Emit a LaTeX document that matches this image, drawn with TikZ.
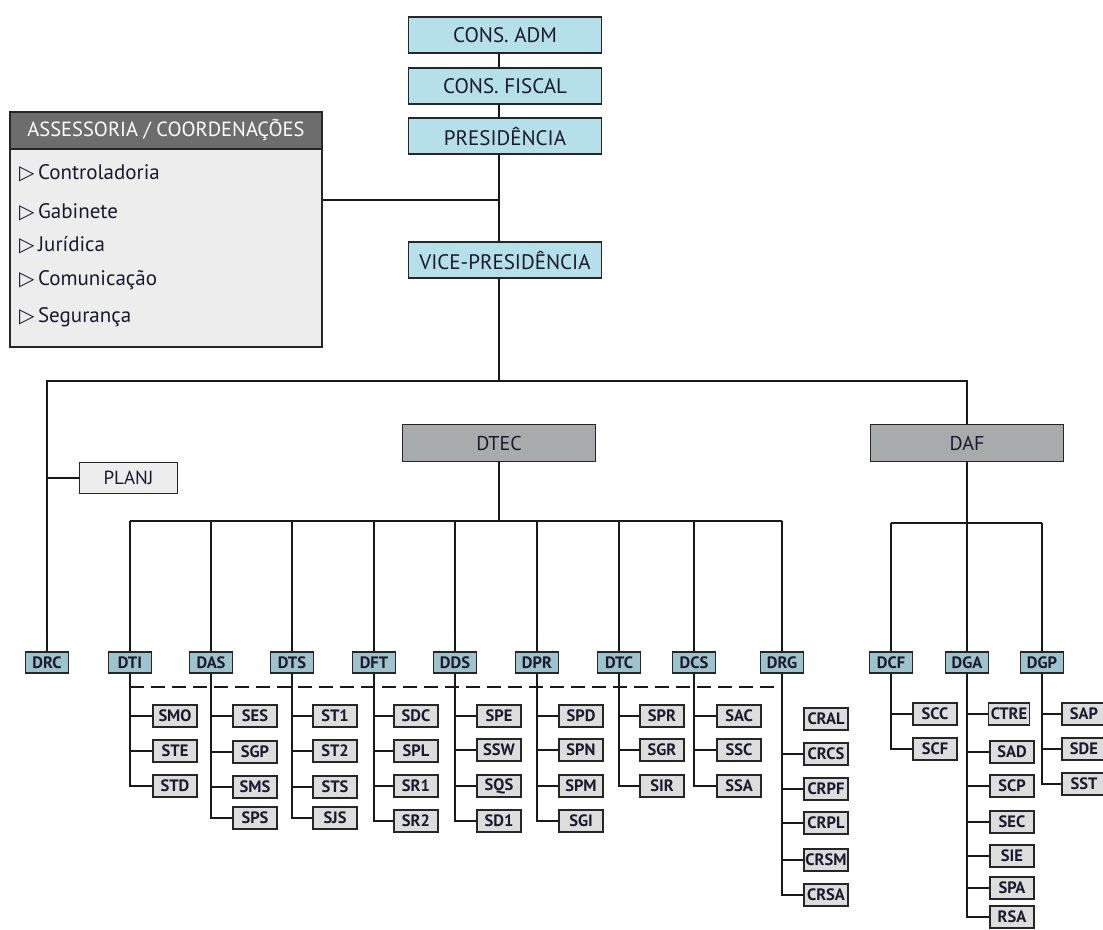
\documentclass[tikz,border=0pt]{standalone}
\usepackage{fontspec}
\setmainfont{PT Sans}
\newfontfamily\symfont{DejaVu Sans}
\definecolor{topfill}{HTML}{B5DFE9}
\definecolor{dirfill}{HTML}{9EC3CC}
\definecolor{subfill}{HTML}{DDDDDD}
\definecolor{hdrfill}{HTML}{6D6D6D}
\definecolor{bodyfill}{HTML}{EDEDED}
\definecolor{bigfill}{HTML}{A7ABAC}
\definecolor{txt}{HTML}{1A1A2E}
\tikzset{
  topbox/.style={draw=black!85, line width=1.4pt, fill=topfill, minimum width=193pt, minimum height=36pt, inner sep=0pt, font=\fontsize{21}{23}\selectfont, text=txt},
  bigbox/.style={draw=black!85, line width=1.4pt, fill=bigfill, minimum width=193pt, minimum height=37pt, inner sep=0pt, font=\fontsize{20}{22}\selectfont, text=txt},
  dirbox/.style={draw=black!85, line width=1.6pt, fill=dirfill, minimum width=43pt, minimum height=21pt, inner sep=0pt, font=\bfseries\fontsize{16.5}{17}\selectfont, text=txt},
  subbox/.style={draw=black!85, line width=1.6pt, fill=subfill, minimum width=44pt, minimum height=22pt, inner sep=0pt, font=\bfseries\fontsize{16.5}{17}\selectfont, text=txt},
  lightbox/.style={draw=black!85, line width=1.4pt, fill=bodyfill, inner sep=0pt},
  item/.style={anchor=west, inner sep=0pt, font=\fontsize{21}{23}\selectfont, text=txt},
  link/.style={line width=1.4pt, draw=black!90},
  dashlink/.style={line width=1.4pt, draw=black!90, dash pattern=on 14pt off 7pt}
}
\newcommand{\tri}{{\symfont\fontsize{20}{21}\selectfont ▷}}
\begin{document}
\begin{tikzpicture}[x=1pt, y=-1pt]
\useasboundingbox (0,0) rectangle (1103,929);

% ---- top of the hierarchy ----
\node[topbox] (adm)    at (505,35)  {CONS. ADM};
\node[topbox] (fiscal) at (505,86)  {CONS. FISCAL};
\node[topbox] (pres)   at (505,136) {PRESIDÊNCIA};
\node[topbox] (vice)   at (505,260) {VICE-PRESIDÊNCIA};
\coordinate (spine) at (499,0);
\draw[link] (adm.south -| spine) -- (fiscal.north -| spine);
\draw[link] (fiscal.south -| spine) -- (pres.north -| spine);
\draw[link] (pres.south -| spine) -- (vice.north -| spine);

% ---- advisory panel ----
\node[lightbox, minimum width=312pt, minimum height=235pt] (assess) at (166,229.5) {};
\node[draw=black!85, line width=1.4pt, fill=hdrfill, minimum width=312pt, minimum height=37pt, inner sep=0pt,
      font=\fontsize{20.5}{22}\selectfont, text=white] (asshdr) at (166,130.5) {ASSESSORIA / COORDENAÇÕES};
\node[item] (i1) at (19,173) {\tri\,Controladoria};
\node[item] (i2) at (19,212) {\tri\,Gabinete};
\node[item] (i3) at (19,245) {\tri\,Jurídica};
\node[item] (i4) at (19,280) {\tri\,Comunicação};
\node[item] (i5) at (19,317) {\tri\,Segurança};
\coordinate (aj) at (499,200);
\draw[link] (assess.east |- aj) -- (aj);

% ---- main bus below the vice-presidency ----
\coordinate (bus) at (967,381);
\node[bigbox] (dtec) at (499,443) {DTEC};
\node[bigbox] (daf)  at (967,443) {DAF};
\node[dirbox] (drc)  at (47,662.5) {DRC};
\node[lightbox, minimum width=98pt, minimum height=31pt, font=\fontsize{19}{21}\selectfont, text=txt] (planj) at (128.5,478) {PLANJ};
\draw[link] (vice.south -| spine) -- (spine |- bus);
\draw[link] (drc.north) |- (bus) -- (daf.north);
\draw[link] (drc.north |- planj.west) -- (planj.west);

% ---- DTEC directorates ----
\coordinate (tb) at (0,521);
\foreach \n/\t/\x in {dti/DTI/130, das/DAS/211, dts/DTS/292, dft/DFT/374, dds/DDS/455,
                      dpr/DPR/537, dtc/DTC/619, dcs/DCS/694, drg/DRG/782}{
  \node[dirbox] (\n) at (\x,662.5) {\t};
  \draw[link] (\n.north) -- (\n.north |- tb);
}
\draw[link] (dtec.south) -- (dtec.south |- tb);
\draw[link] (dti.north |- tb) -- (drg.north |- tb);
\coordinate (dl) at (0,687);
\draw[dashlink] (dti.south |- dl) -- (drg.south |- dl);

% ---- DAF directorates ----
\coordinate (ab) at (0,523);
\foreach \n/\t/\x in {dcf/DCF/891, dga/DGA/967, dgp/DGP/1042}{
  \node[dirbox] (\n) at (\x,662.5) {\t};
  \draw[link] (\n.north) -- (\n.north |- ab);
}
\draw[link] (daf.south) -- (daf.south |- ab);
\draw[link] (dcf.north |- ab) -- (dgp.north |- ab);

% ---- sections ----
\foreach \n/\t/\y in {smo/SMO/716, ste/STE/751, std/STD/786}{
  \node[subbox] (\n) at (175,\y) {\t}; \draw[link] (dti.south) |- (\n.west);}
\foreach \n/\t/\y in {ses/SES/716, sgp/SGP/752, sms/SMS/787, sps/SPS/818}{
  \node[subbox] (\n) at (255,\y) {\t}; \draw[link] (das.south) |- (\n.west);}
\foreach \n/\t/\y in {st1/ST1/716, st2/ST2/751, sts/STS/787, sjs/SJS/818}{
  \node[subbox] (\n) at (335,\y) {\t}; \draw[link] (dts.south) |- (\n.west);}
\foreach \n/\t/\y in {sdc/SDC/716, spl/SPL/751, sr1/SR1/786, sr2/SR2/821}{
  \node[subbox] (\n) at (416,\y) {\t}; \draw[link] (dft.south) |- (\n.west);}
\foreach \n/\t/\y in {spe/SPE/716, ssw/SSW/750, sqs/SQS/786, sd1/SD1/821}{
  \node[subbox] (\n) at (499,\y) {\t}; \draw[link] (dds.south) |- (\n.west);}
\foreach \n/\t/\y in {spd/SPD/716, spn/SPN/750, spm/SPM/786, sgi/SGI/821}{
  \node[subbox] (\n) at (581,\y) {\t}; \draw[link] (dpr.south) |- (\n.west);}
\foreach \n/\t/\y in {spr/SPR/716, sgr/SGR/750, sir/SIR/786}{
  \node[subbox] (\n) at (662,\y) {\t}; \draw[link] (dtc.south) |- (\n.west);}
\foreach \n/\t/\y in {sac/SAC/716, ssc/SSC/750, ssa/SSA/786}{
  \node[subbox] (\n) at (739,\y) {\t}; \draw[link] (dcs.south) |- (\n.west);}
\node[subbox] (cral) at (826,719) {CRAL};
\foreach \n/\t/\y in {crcs/CRCS/754, crpf/CRPF/789, crpl/CRPL/823, crsm/CRSM/860, crsa/CRSA/895}{
  \node[subbox] (\n) at (826,\y) {\t}; \draw[link] (drg.south) |- (\n.west);}
\foreach \n/\t/\y in {scc/SCC/714, scf/SCF/749}{
  \node[subbox] (\n) at (935,\y) {\t}; \draw[link] (dcf.south) |- (\n.west);}
\node[subbox, minimum width=41pt] (ctre) at (1009,714) {CTRE};
\draw[link] (dga.south) |- (ctre.west);
\foreach \n/\t/\y in {sad/SAD/752, scp/SCP/786, sec/SEC/822, sie/SIE/856, spa/SPA/888, rsa/RSA/917}{
  \node[subbox] (\n) at (1012,\y) {\t}; \draw[link] (dga.south) |- (\n.west);}
\foreach \n/\t/\y in {sap/SAP/714, sde/SDE/749, sst/SST/784}{
  \node[subbox] (\n) at (1084,\y) {\t}; \draw[link] (dgp.south) |- (\n.west);}
\end{tikzpicture}
\end{document}
